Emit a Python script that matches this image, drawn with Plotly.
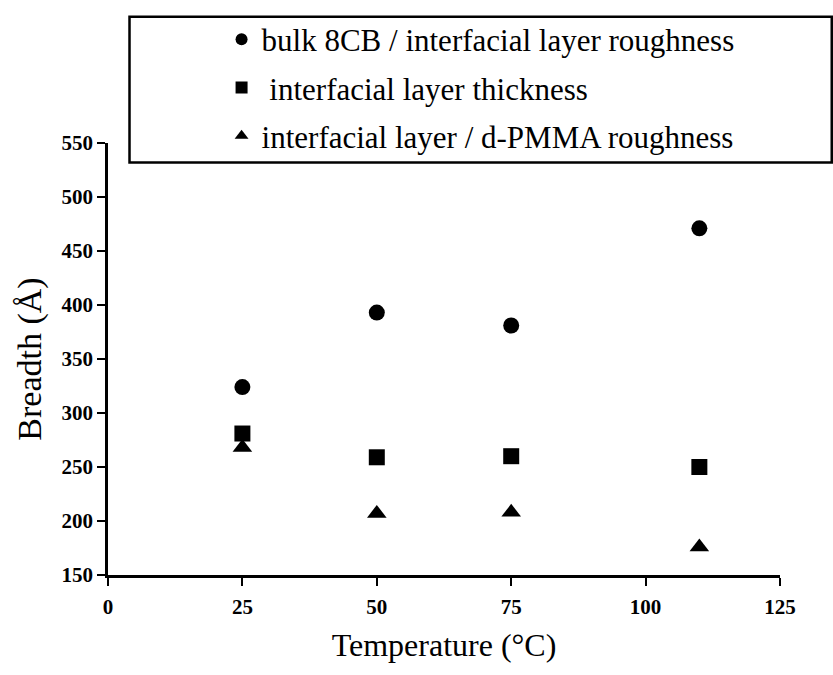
import plotly.graph_objects as go

temps = [25, 50, 75, 110]
bulk_roughness = [324, 393, 381, 471]
layer_thickness = [281, 259, 260, 250]
pmma_roughness = [268, 207, 208, 176]

series_names = [
    "bulk 8CB / interfacial layer roughness",
    " interfacial layer thickness",
    "interfacial layer / d-PMMA roughness",
]
x_ticks = [0, 25, 50, 75, 100, 125]
y_ticks = [150, 200, 250, 300, 350, 400, 450, 500, 550]

serif = "Liberation Serif"

fig = go.Figure()
for i, (vals, sym, size, name) in enumerate(zip(
        [bulk_roughness, layer_thickness, pmma_roughness],
        ["circle", "square", "triangle-up"], [16, 16, 17], series_names)):
    fig.add_trace(go.Scatter(
        x=temps, y=vals, mode="markers",
        name=f'<span style="font-family:{serif}">{name}</span>',
        legendgroup=f"g{i}",
        marker=dict(symbol=sym, size=size, color="black", line=dict(width=0)),
        cliponaxis=False,
    ))

fig.update_layout(
    width=833, height=675,
    margin=dict(l=108, r=53, t=141, b=100),
    paper_bgcolor="white", plot_bgcolor="white",
    font=dict(family=serif, color="black"),
    showlegend=True,
    legend=dict(
        x=0.169, y=1.302, xanchor="left", yanchor="top",
        font=dict(family=serif, size=31, color="black"),
        bgcolor="rgba(0,0,0,0)", borderwidth=0,
        itemsizing="constant", tracegroupgap=5,
    ),
    xaxis=dict(
        range=[0, 125], tickvals=x_ticks, ticktext=[str(t) for t in x_ticks],
        showgrid=False, zeroline=False, showline=True, linecolor="black", linewidth=2.5,
        ticks="outside", ticklen=8, tickwidth=2, tickcolor="black",
        tickfont=dict(family=serif, size=21, color="black", weight="bold"),
        ticklabelstandoff=3,
        title=dict(text="Temperature (°C)", font=dict(family=serif, size=32, color="black"), standoff=16),
    ),
    yaxis=dict(
        range=[150, 550], tickvals=y_ticks, ticktext=[str(t) for t in y_ticks],
        showgrid=False, zeroline=False, showline=True, linecolor="black", linewidth=2.5,
        ticks="outside", ticklen=8, tickwidth=2, tickcolor="black",
        tickfont=dict(family=serif, size=21, color="black", weight="bold"),
        title=dict(text="Breadth (Å)", font=dict(family=serif, size=34, color="black"), standoff=10),
    ),
    shapes=[dict(
        type="rect", xref="paper", yref="paper",
        x0=0.032, x1=1.077, y0=0.955, y1=1.292,
        line=dict(color="black", width=2.5), fillcolor="rgba(0,0,0,0)", layer="below",
    )],
)

fig.write_html("out.html")
